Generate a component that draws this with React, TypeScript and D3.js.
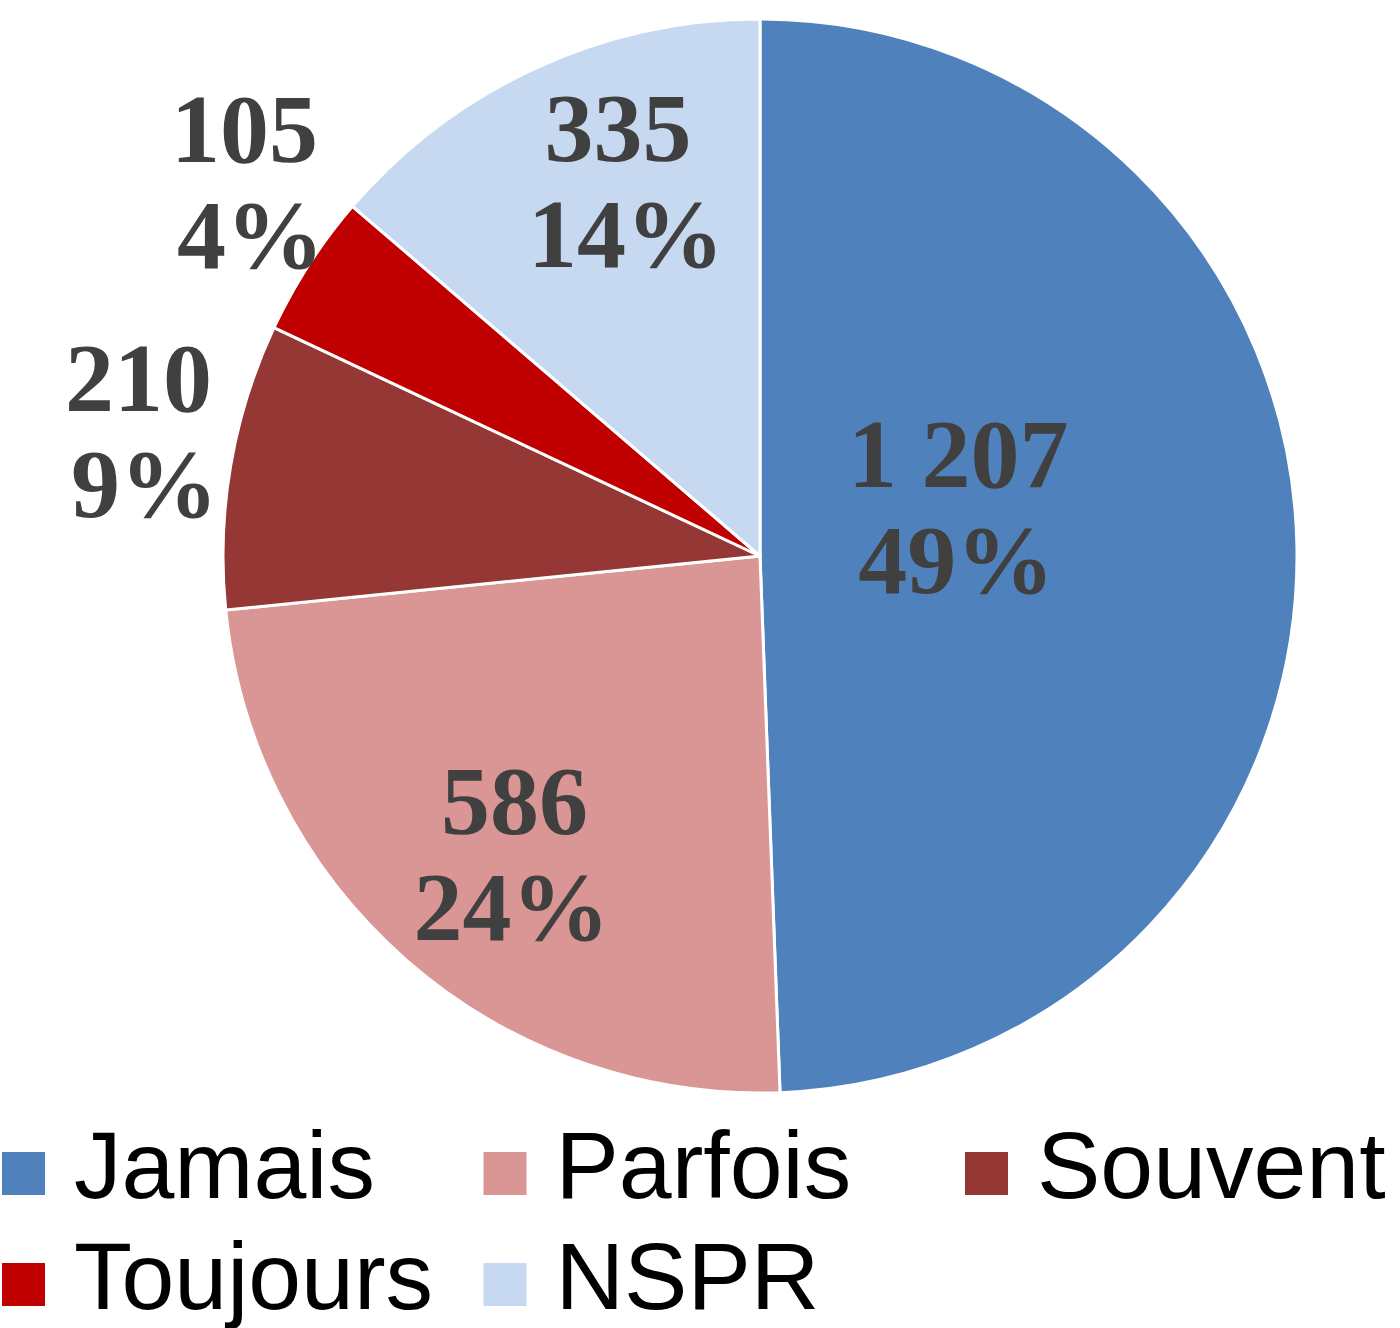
import React from 'react';
import * as d3 from 'd3';

const categories = ['Jamais', 'Parfois', 'Souvent', 'Toujours', 'NSPR'];
const counts = [1207, 586, 210, 105, 335];
const colors = ['#4F81BD', '#D99694', '#953735', '#C00000', '#C6D9F0'];

// label placement (fraction of radius, angle nudge in degrees) - mimics Excel "best fit"
const labelRadius = [0.38, 0.72, 1.18, 1.185, 0.745];
const labelNudge = [-12.5, -1.6, 1.6, 3.0, 3.9];
const pctShift = [-2, -3, 6, 6, 8];

const W = 1400;
const H = 1328;
const cx = 760;
const cy = 556;
const R = 537;

const fmtCount = (v: number) => d3.format(',')(v).replace(/,/g, ' ');

const App: React.FC = () => {
  const total = d3.sum(counts);
  const pie = d3.pie<number>().sort(null).value((d) => d);
  const arcs = pie(counts);
  const arc = d3.arc<d3.PieArcDatum<number>>().innerRadius(0).outerRadius(R);

  const fs = 98;
  const lineH = 106;
  const cap = fs * 0.66;

  return (
    <svg
      width={W}
      height={H}
      style={{ position: 'absolute', left: 0, top: 0, background: '#fff' }}
    >
      <g transform={`translate(${cx},${cy})`}>
        {arcs.map((a, i) => (
          <path key={i} d={arc(a) || ''} fill={colors[i]} stroke="#fff" strokeWidth={3} strokeLinejoin="round" />
        ))}
        {arcs.map((a, i) => {
          const mid = (a.startAngle + a.endAngle) / 2 + (labelNudge[i] * Math.PI) / 180;
          const r = labelRadius[i] * R;
          const x = Math.sin(mid) * r;
          const y = -Math.cos(mid) * r;
          const top = y - (cap + lineH) / 2;
          const pct = Math.round((counts[i] / total) * 100);
          return (
            <text
              key={i}
              textAnchor="middle"
              fontFamily="'Liberation Serif', 'Times New Roman', serif"
              fontWeight="bold"
              fontSize={fs}
              fill="#404040"
            >
              <tspan x={x} y={top + cap}>{fmtCount(counts[i])}</tspan>
              <tspan x={x + pctShift[i]} y={top + cap + lineH}>{pct}%</tspan>
            </text>
          );
        })}
      </g>
      <g fontFamily="'Liberation Sans', Arial, sans-serif" fontSize={95} fill="#000">
        {categories.map((c, i) => {
          const col = i % 3;
          const row = Math.floor(i / 3);
          const x0 = 2 + col * 481.5;
          const y0 = 1152 + row * 111;
          return (
            <g key={c}>
              <rect x={x0} y={y0} width={43} height={43} fill={colors[i]} />
              <text x={x0 + 72} y={y0 + 46}>{c}</text>
            </g>
          );
        })}
      </g>
    </svg>
  );
};

export default App;
